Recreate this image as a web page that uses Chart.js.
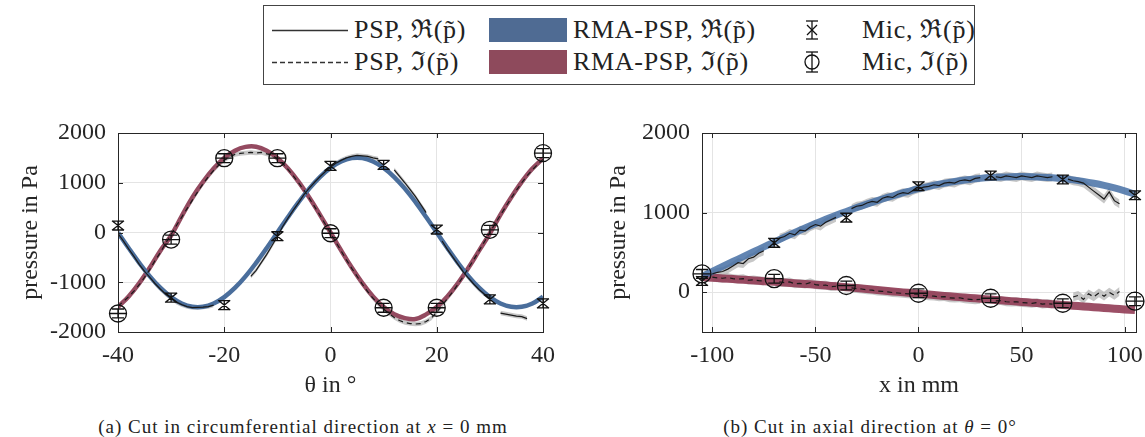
<!DOCTYPE html>
<html><head><meta charset="utf-8">
<script src="https://cdn.jsdelivr.net/npm/chart.js@4.4.1/dist/chart.umd.min.js"></script>
<style>
html,body{margin:0;padding:0;background:#fff;}
body{width:1145px;height:437px;position:relative;overflow:hidden;font-family:"Liberation Serif",serif;color:#222;}
.abs{position:absolute;white-space:nowrap;}
.lt{font-size:26px;line-height:30px;letter-spacing:0.7px;}
.cap{font-size:19px;line-height:22px;letter-spacing:1px;transform:translateX(-50%);}
canvas{position:absolute;}
</style></head>
<body>
<!-- legend -->
<div class="abs" style="left:263px;top:5px;width:710px;height:78px;border:1px solid #444;"></div>
<svg class="abs" style="left:270px;top:20px;" width="80" height="50" viewBox="0 0 80 50">
 <line x1="2" y1="10.5" x2="78" y2="10.5" stroke="#333" stroke-width="1.3"/>
 <line x1="2" y1="42.5" x2="78" y2="42.5" stroke="#333" stroke-width="1.3" stroke-dasharray="5 3"/>
</svg>
<div class="abs lt" style="left:354px;top:15px;">PSP, ℜ(p̃)</div>
<div class="abs lt" style="left:354px;top:47px;">PSP, ℑ(p̃)</div>
<div class="abs" style="left:489px;top:18px;width:78px;height:24px;background:#4f6b93;"></div>
<div class="abs" style="left:489px;top:50px;width:78px;height:24px;background:#8e4a5c;"></div>
<div class="abs lt" style="left:573px;top:15px;">RMA-PSP, ℜ(p̃)</div>
<div class="abs lt" style="left:573px;top:47px;">RMA-PSP, ℑ(p̃)</div>
<svg class="abs" style="left:800px;top:16px;" width="24" height="28" viewBox="0 0 24 28">
 <g stroke="#111" stroke-width="1.3" fill="none">
  <line x1="12" y1="5" x2="12" y2="23"/><line x1="6" y1="5" x2="18" y2="5"/><line x1="6" y1="23" x2="18" y2="23"/>
  <line x1="7" y1="9" x2="17" y2="19"/><line x1="17" y1="9" x2="7" y2="19"/>
 </g></svg>
<svg class="abs" style="left:800px;top:48px;" width="24" height="28" viewBox="0 0 24 28">
 <g stroke="#111" stroke-width="1.3" fill="none">
  <line x1="12" y1="4" x2="12" y2="24"/><line x1="6" y1="4" x2="18" y2="4"/><line x1="6" y1="24" x2="18" y2="24"/>
  <circle cx="12" cy="14" r="7"/>
 </g></svg>
<div class="abs lt" style="left:862px;top:15px;">Mic, ℜ(p̃)</div>
<div class="abs lt" style="left:862px;top:47px;">Mic, ℑ(p̃)</div>

<canvas id="c1" width="570" height="300" style="left:0;top:100px;"></canvas>
<canvas id="c2" width="565" height="300" style="left:580px;top:100px;"></canvas>

<div class="abs cap" style="left:303px;top:416px;">(a) Cut in circumferential direction at <i>x</i> = 0 mm</div>
<div class="abs cap" style="left:870px;top:416px;">(b) Cut in axial direction at <i>θ</i> = 0°</div>

<script>
// ---------------- data: (a) circumferential cut ----------------
const thetaPsp = [-40,-39,-38,-37,-36,-35,-34,-33,-32,-31,-30,-29,-28,-27,-26,-25,-24,-23,-22,-21,-20,-19,-18,-17,-16,-15,-14,-13,-12,-11,-10,-9,-8,-7,-6,-5,-4,-3,-2,-1,0,1,2,3,4,5,6,7,8,9,10,11,12,13,14,15,16,17,18,19,20,21,22,23,24,25,26,27,28,29,30,31,32,33,34,35,36,37,38,39,40];
const pspReA = [-20,-170,-330,-480,-640,-780,-900,-1030,-1140,-1240,-1320,-1400,-1450,-1490,-1510,-1505,-1500,-1490,-1460,
  null,null,null,null,null,null,
  -880,-760,-600,-440,-260,-80,120,290,450,600,760,890,1010,1120,1220,1310,1390,1450,1500,1530,1550,1540,1530,1500,1480,
  null,null,
  1260,1130,1000,860,720,560,400,
  null,null,
  -170,-340,-490,-640,-790,-920,-1040,-1150,-1240,-1320,
  null,
  -1620,-1640,-1660,-1680,-1690,-1730,
  null,null,null];
const pspImA = [-1480,-1390,-1290,-1180,-1050,-900,-740,-560,-400,-210,-40,140,310,480,650,820,980,1120,1250,1360,1450,1520,1570,1590,1600,1610,1600,1610,1580,1560,1480,1390,1270,1140,1000,850,690,520,350,170,-10,-190,-370,-550,-720,-880,-1040,-1190,-1320,-1440,-1540,-1630,-1710,-1770,-1810,-1830,-1840,-1830,-1790,-1720,-1600,-1470,-1330,-1190,-1040,-880,-710,-540,-360,-180,0,180,350,520,690,850,1000,1140,1260,1370,1470];
const pspUncA = 45;
const thetaRma = [-40,-38,-36,-34,-32,-30,-28,-26,-24,-22,-20,-18,-16,-14,-12,-10,-8,-6,-4,-2,0,2,4,6,8,10,12,14,16,18,20,22,24,26,28,30,32,34,36,38,40];
const rmaReA = [0,-312,-610,-882,-1115,-1299,-1427,-1492,-1492,-1427,-1299,-1115,-882,-610,-312,0,312,610,882,1115,1299,1427,1495,1495,1427,1299,1115,882,610,312,0,-312,-610,-882,-1115,-1299,-1427,-1492,-1492,-1427,-1290];
const rmaImA = [-1498,-1285,-1017,-704,-360,-60,330,704,1017,1285,1498,1645,1721,1725,1645,1498,1285,1017,704,360,0,-360,-704,-1017,-1285,-1498,-1645,-1721,-1740,-1645,-1498,-1285,-1017,-704,-360,-20,360,704,1017,1285,1490];
const thetaMic = [-40,-30,-20,-10,0,10,20,30,40];
const micReA = [140,-1310,-1460,-75,1338,1358,60,-1345,-1425];
const micImA = [-1628,-142,1493,1493,-15,-1513,-1513,54,1595];
const micErrA = 90;
const xTicksA = [-40,-20,0,20,40];
const yTicksA = [-2000,-1000,0,1000,2000];

// ---------------- data: (b) axial cut ----------------
const xPsp = [-100,-97.5,-95,-92.5,-90,-87.5,-85,-82.5,-80,-77.5,-75,-72.5,-70,-67.5,-65,-62.5,-60,-57.5,-55,-52.5,-50,-47.5,-45,-42.5,-40,-37.5,-35,-32.5,-30,-27.5,-25,-22.5,-20,-17.5,-15,-12.5,-10,-7.5,-5,-2.5,0,2.5,5,7.5,10,12.5,15,17.5,20,22.5,25,27.5,30,32.5,35,37.5,40,42.5,45,47.5,50,52.5,55,57.5,60,62.5,65,67.5,70,72.5,75,77.5,80,82.5,85,87.5,90,92.5,95,97.5];
const pspReB = [230,250,260,290,330,370,360,420,440,490,520,null,null,680,700,740,720,780,770,820,850,830,880,910,940,null,null,1050,1080,1090,1120,1140,1130,1180,1200,1190,1230,1250,1240,1280,1300,1320,1330,1350,1340,1370,1380,1370,1400,1410,1400,1430,1440,null,null,1450,1440,1460,1450,1440,1460,1450,1440,1460,1450,1440,1450,null,null,1420,1400,1390,1370,1320,1270,1220,1170,1260,1150,1110];
const pspImB = [190,180,175,185,170,165,170,150,155,145,140,null,null,130,120,130,105,110,100,120,95,85,90,70,75,null,null,55,45,40,30,25,15,10,5,-5,-10,-15,-20,-25,-25,-40,-45,-50,-60,-55,-70,-75,-70,-85,-90,-95,-90,null,null,-110,-105,-120,-125,-120,-130,-135,-140,-130,-150,-145,-150,null,null,null,-60,-40,-90,-20,-60,-10,-50,0,-40,10];
const pspUncB = 55;
const xRma = [-105,-100,-95,-90,-85,-80,-75,-70,-65,-60,-55,-50,-45,-40,-35,-30,-25,-20,-15,-10,-5,0,5,10,15,20,25,30,35,40,45,50,55,60,65,70,75,80,85,90,95,100,105];
const rmaReB = [200,262,324,386,447,508,569,630,691,750,807,862,915,966,1015,1062,1107,1150,1191,1230,1266,1300,1330,1357,1380,1400,1417,1430,1440,1447,1451,1452,1450,1445,1437,1426,1411,1392,1369,1342,1310,1272,1230];
const rmaImB = [190,182,173,165,156,148,139,130,121,112,103,94,84,74,63,52,40,28,16,4,-8,-19,-30,-41,-52,-62,-72,-82,-92,-102,-112,-122,-132,-141,-151,-160,-170,-179,-188,-198,-207,-216,-225];
const xMic = [-105,-70,-35,0,35,70,105];
const micReB = [140,620,937,1332,1466,1416,1218];
const micImB = [230,170,84,-13,-76,-139,-113];
const micErrB = 55;
const xTicksB = [-100,-50,0,50,100];
const yTicksB = [0,1000,2000];

// ---------------- helpers ----------------
const FONT = "'Liberation Serif', 'DejaVu Serif', serif";
Chart.defaults.font.family = FONT;
Chart.defaults.color = '#262626';
const pts = (xs, ys, d) => xs.map((x, i) => ({x, y: ys[i] === null ? null : (ys[i] + (d || 0))}));

const framePlugin = {
  id: 'frame',
  afterDatasetsDraw(chart) {
    const {ctx, chartArea: a, scales} = chart;
    ctx.save();
    ctx.strokeStyle = '#262626';
    ctx.lineWidth = 1;
    ctx.strokeRect(Math.round(a.left) + 0.5, Math.round(a.top) + 0.5, Math.round(a.right - a.left), Math.round(a.bottom - a.top));
    ctx.beginPath();
    const L = 5;
    scales.x.ticks.forEach(t => {
      const px = Math.round(scales.x.getPixelForValue(t.value)) + 0.5;
      ctx.moveTo(px, a.bottom); ctx.lineTo(px, a.bottom - L);
      ctx.moveTo(px, a.top); ctx.lineTo(px, a.top + L);
    });
    scales.y.ticks.forEach(t => {
      const py = Math.round(scales.y.getPixelForValue(t.value)) + 0.5;
      ctx.moveTo(a.left, py); ctx.lineTo(a.left + L, py);
      ctx.moveTo(a.right, py); ctx.lineTo(a.right - L, py);
    });
    ctx.stroke();
    ctx.restore();
  }
};

const micPlugin = {
  id: 'mic',
  afterDatasetsDraw(chart) {
    const ctx = chart.ctx, ys = chart.scales.y;
    chart.data.datasets.forEach((ds, i) => {
      if (!ds.micKind) return;
      const meta = chart.getDatasetMeta(i);
      meta.data.forEach((el, j) => {
        const v = ds.data[j].y;
        const cx = el.x, cy = el.y;
        const yt = ys.getPixelForValue(v + ds.micErr), yb = ys.getPixelForValue(v - ds.micErr);
        ctx.save();
        ctx.strokeStyle = '#111';
        ctx.lineWidth = 1.3;
        ctx.beginPath();
        const cap = 6;
        ctx.moveTo(cx, yt); ctx.lineTo(cx, yb);
        ctx.moveTo(cx - cap, yt); ctx.lineTo(cx + cap, yt);
        ctx.moveTo(cx - cap, yb); ctx.lineTo(cx + cap, yb);
        if (ds.micKind === 're') {
          const s = 6;
          ctx.moveTo(cx - s, cy - s * 0.8); ctx.lineTo(cx + s, cy + s * 0.8);
          ctx.moveTo(cx + s, cy - s * 0.8); ctx.lineTo(cx - s, cy + s * 0.8);
        } else {
          const r = ds.micR;
          ctx.moveTo(cx - r, cy); ctx.lineTo(cx + r, cy);
          ctx.moveTo(cx + r, cy);
          ctx.arc(cx, cy, r, 0, Math.PI * 2);
        }
        ctx.stroke();
        ctx.restore();
      });
    });
  }
};

function makeChart(id, cfg) {
  const bandCol = 'rgba(180,180,180,0.75)';
  const datasets = [
    {data: pts(cfg.xp, cfg.pRe), borderColor: '#1a1a1a', borderWidth: 1.2, pointRadius: 0, spanGaps: false, tension: 0, order: 1, fill: false},
    {data: pts(cfg.xp, cfg.pIm), borderColor: '#1a1a1a', borderWidth: 1.2, borderDash: [5, 4], pointRadius: 0, spanGaps: false, tension: 0, order: 1, fill: false},
    {data: pts(cfg.xr, cfg.rRe), borderColor: cfg.blue, borderWidth: cfg.rw, pointRadius: 0, tension: 0.4, order: 2, fill: false},
    {data: pts(cfg.xr, cfg.rIm), borderColor: cfg.red, borderWidth: cfg.rwIm, pointRadius: 0, tension: 0.4, order: 2, fill: false},
    {data: pts(cfg.xp, cfg.pRe, cfg.unc), borderWidth: 0, pointRadius: 0, backgroundColor: bandCol, fill: '+1', spanGaps: false, order: 3},
    {data: pts(cfg.xp, cfg.pRe, -cfg.unc), borderWidth: 0, pointRadius: 0, fill: false, spanGaps: false, order: 3},
    {data: pts(cfg.xp, cfg.pIm, cfg.unc), borderWidth: 0, pointRadius: 0, backgroundColor: bandCol, fill: '+1', spanGaps: false, order: 3},
    {data: pts(cfg.xp, cfg.pIm, -cfg.unc), borderWidth: 0, pointRadius: 0, fill: false, spanGaps: false, order: 3},
    {data: pts(cfg.xm, cfg.mRe), showLine: false, pointRadius: 0, micKind: 're', micErr: cfg.err, order: 0},
    {data: pts(cfg.xm, cfg.mIm), showLine: false, pointRadius: 0, micKind: 'im', micErr: cfg.err, micR: cfg.circR, order: 0}
  ];
  return new Chart(document.getElementById(id), {
    type: 'line',
    data: {datasets},
    plugins: [framePlugin, micPlugin],
    options: {
      responsive: false, animation: false, devicePixelRatio: 1,
      layout: {padding: {left: 0, right: cfg.padR, top: 33, bottom: 0}},
      plugins: {legend: {display: false}, tooltip: {enabled: false}},
      scales: {
        x: {
          type: 'linear', min: cfg.xmin, max: cfg.xmax,
          afterBuildTicks: s => { s.ticks = cfg.xt.map(v => ({value: v})); },
          afterFit: s => { s.height = 68; s.paddingLeft = 0; s.paddingRight = 0; },
          grid: {color: '#e4e4e4', drawTicks: false, lineWidth: 1},
          border: {display: false},
          ticks: {padding: 9, font: {size: 24, family: FONT}, color: '#262626', callback: v => String(v), maxRotation: 0},
          title: {display: true, text: cfg.xtitle, font: {size: 24, family: FONT}, color: '#262626', padding: {top: 0, bottom: 0}}
        },
        y: {
          type: 'linear', min: cfg.ymin, max: cfg.ymax,
          afterBuildTicks: s => { s.ticks = cfg.yt.map(v => ({value: v})); },
          afterFit: s => { s.width = cfg.yw; s.paddingTop = 0; s.paddingBottom = 0; },
          grid: {color: '#e4e4e4', drawTicks: false, lineWidth: 1},
          border: {display: false},
          ticks: {padding: 12, font: {size: 24, family: FONT}, color: '#262626', callback: v => String(v)},
          title: {display: true, text: 'pressure in Pa', font: {size: 24, family: FONT}, color: '#262626', padding: {top: cfg.ytp, bottom: 0}}
        }
      }
    }
  });
}

makeChart('c1', {
  xp: thetaPsp, pRe: pspReA, pIm: pspImA, unc: pspUncA,
  xr: thetaRma, rRe: rmaReA, rIm: rmaImA,
  xm: thetaMic, mRe: micReA, mIm: micImA, err: micErrA, circR: 8.5,
  blue: '#4a6e9c', red: '#944a60', rw: 4.5, rwIm: 4.5,
  xmin: -40, xmax: 40, ymin: -2000, ymax: 2000, xt: xTicksA, yt: yTicksA,
  xtitle: 'θ in °', yw: 118, ytp: 16, padR: 27
});
makeChart('c2', {
  xp: xPsp, pRe: pspReB, pIm: pspImB, unc: pspUncB,
  xr: xRma, rRe: rmaReB, rIm: rmaImB,
  xm: xMic, mRe: micReB, mIm: micImB, err: micErrB, circR: 9,
  blue: 'rgba(70,112,165,0.85)', red: 'rgba(145,60,85,0.9)', rw: 7, rwIm: 8,
  xmin: -105, xmax: 105.5, ymin: -500, ymax: 2000, xt: xTicksB, yt: yTicksB,
  xtitle: 'x in mm', yw: 122, ytp: 24, padR: 9
});
</script>
</body></html>
